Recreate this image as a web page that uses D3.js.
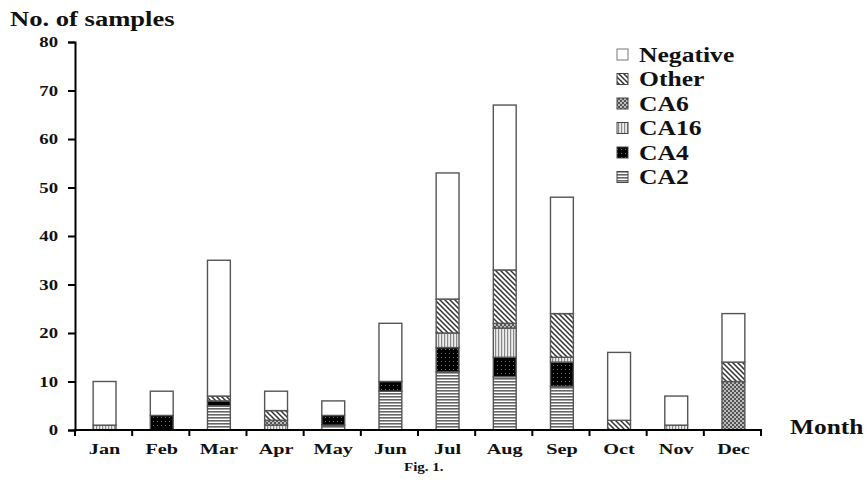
<!DOCTYPE html>
<html><head><meta charset="utf-8">
<script src="https://cdn.jsdelivr.net/npm/d3@7"></script>
<style>body{margin:0;background:#fff}svg{display:block}text{font-family:"Liberation Serif","Times New Roman",serif;font-weight:bold;fill:#111}</style>
</head><body><svg id="c" width="866" height="483"></svg>
<script>
const months = ["Jan","Feb","Mar","Apr","May","Jun","Jul","Aug","Sep","Oct","Nov","Dec"];
const CA2      = [0,0,5,0,1,8,12,11,9,0,0,0];
const CA4      = [0,3,1,0,2,2,5,4,5,0,0,0];
const CA16     = [1,0,0,1,0,0,3,6,1,0,1,0];
const CA6      = [0,0,0,1,0,0,0,1,0,0,0,10];
const Other    = [0,0,1,2,0,0,7,11,9,2,0,4];
const Negative = [9,5,28,4,3,12,26,34,24,14,6,10];
const yTicks = [0,10,20,30,40,50,60,70,80];
const seriesNames = ["CA2","CA4","CA16","CA6","Other","Negative"];
const seriesData = {CA2, CA4, CA16, CA6, Other, Negative};
const legendOrder = ["Negative","Other","CA6","CA16","CA4","CA2"];

const svg = d3.select("#c");
const defs = svg.append("defs");
// patterns
let p = defs.append("pattern").attr("id","p-CA2").attr("patternUnits","userSpaceOnUse").attr("width",4).attr("height",3);
p.append("rect").attr("width",4).attr("height",3).attr("fill","#fff");
p.append("rect").attr("width",4).attr("height",1.6).attr("fill","#666");
p = defs.append("pattern").attr("id","p-CA4").attr("patternUnits","userSpaceOnUse").attr("width",4).attr("height",4);
p.append("rect").attr("width",4).attr("height",4).attr("fill","#000");
p.append("rect").attr("x",1).attr("y",1).attr("width",1).attr("height",1).attr("fill","#777");
p = defs.append("pattern").attr("id","p-CA16").attr("patternUnits","userSpaceOnUse").attr("width",3).attr("height",4);
p.append("rect").attr("width",3).attr("height",4).attr("fill","#eee");
p.append("rect").attr("width",1.2).attr("height",4).attr("fill","#888");
p = defs.append("pattern").attr("id","p-CA6").attr("patternUnits","userSpaceOnUse").attr("width",4).attr("height",4);
p.append("rect").attr("width",4).attr("height",4).attr("fill","#bbb");
p.append("rect").attr("width",2).attr("height",2).attr("fill","#555");
p.append("rect").attr("x",2).attr("y",2).attr("width",2).attr("height",2).attr("fill","#555");
p = defs.append("pattern").attr("id","p-Other").attr("patternUnits","userSpaceOnUse").attr("width",5).attr("height",5);
p.append("rect").attr("width",5).attr("height",5).attr("fill","#fff");
p.append("path").attr("d","M-1,-1 L6,6 M-1,4 L1,6 M4,-1 L6,1").attr("stroke","#333").attr("stroke-width",1.5);
const fillOf = k => k === "Negative" ? "#fff" : `url(#p-${k})`;

const mLeft = 75, mRight = 761, mTop = 42, mBottom = 430;
const x = d3.scaleBand().domain(months).range([mLeft, mRight]).padding(0);
const y = d3.scaleLinear().domain([0,80]).range([mBottom, mTop]);

// stretched bold serif text helper
function sText(parent, tx, ty, str, size, sx, anchor) {
  return parent.append("text")
    .attr("transform", `translate(${tx},${ty}) scale(${sx},1)`)
    .attr("text-anchor", anchor || "start")
    .attr("font-size", size).text(str);
}

const rows = months.map((m,i) => {const r = {month:m}; seriesNames.forEach(s => r[s] = seriesData[s][i]); return r;});
const stack = d3.stack().keys(seriesNames)(rows);
const barW = x.bandwidth()*0.4;

const g = svg.append("g");
stack.forEach(layer => {
  g.selectAll(null).data(layer.filter(d => d[1] > d[0])).join("rect")
    .attr("x", d => x(d.data.month) + (x.bandwidth()-barW)/2 + 1)
    .attr("width", barW)
    .attr("y", d => y(d[1]))
    .attr("height", d => y(d[0]) - y(d[1]))
    .attr("fill", fillOf(layer.key))
    .attr("stroke", "#555").attr("stroke-width", 1.4);
});

// y axis
const ya = svg.append("g").attr("transform",`translate(${mLeft},0)`)
  .call(d3.axisLeft(y).tickValues(yTicks).tickSize(7).tickFormat(""));
ya.select(".domain").attr("stroke","#000").attr("stroke-width",2);
ya.selectAll(".tick line").attr("stroke","#000").attr("stroke-width",2);
yTicks.forEach(v => sText(svg, mLeft - 17, y(v) + 5, String(v), 15, 1.25, "end"));

// x axis
const xa = svg.append("g");
xa.append("line").attr("x1",mLeft-1).attr("x2",mRight+1).attr("y1",mBottom).attr("y2",mBottom).attr("stroke","#000").attr("stroke-width",2);
const bounds = months.map(m => x(m)).concat([x(months[months.length-1]) + x.bandwidth()]);
xa.selectAll(null).data(bounds).join("line")
  .attr("x1",d=>d).attr("x2",d=>d).attr("y1",mBottom).attr("y2",mBottom+6).attr("stroke","#000").attr("stroke-width",2);
months.forEach(m => sText(xa, x(m) + x.bandwidth()/2 + 1, 454, m, 15, 1.35, "middle"));

sText(svg, 10, 26, "No. of samples", 20, 1.33);
sText(svg, 790, 434, "Month", 20, 1.27);
sText(svg, 404, 471, "Fig. 1.", 12, 1.25);

// legend
const lg = svg.append("g");
legendOrder.forEach((k,i) => {
  const cy = 55 + i*24.5;
  lg.append("rect").attr("x",617).attr("y",cy-6).attr("width",11).attr("height",11)
    .attr("fill",fillOf(k)).attr("stroke", k==="Negative" ? "#777" : "#444").attr("stroke-width",1);
  sText(lg, 639, cy + 6.5, k, 20, 1.28);
});
</script></body></html>
